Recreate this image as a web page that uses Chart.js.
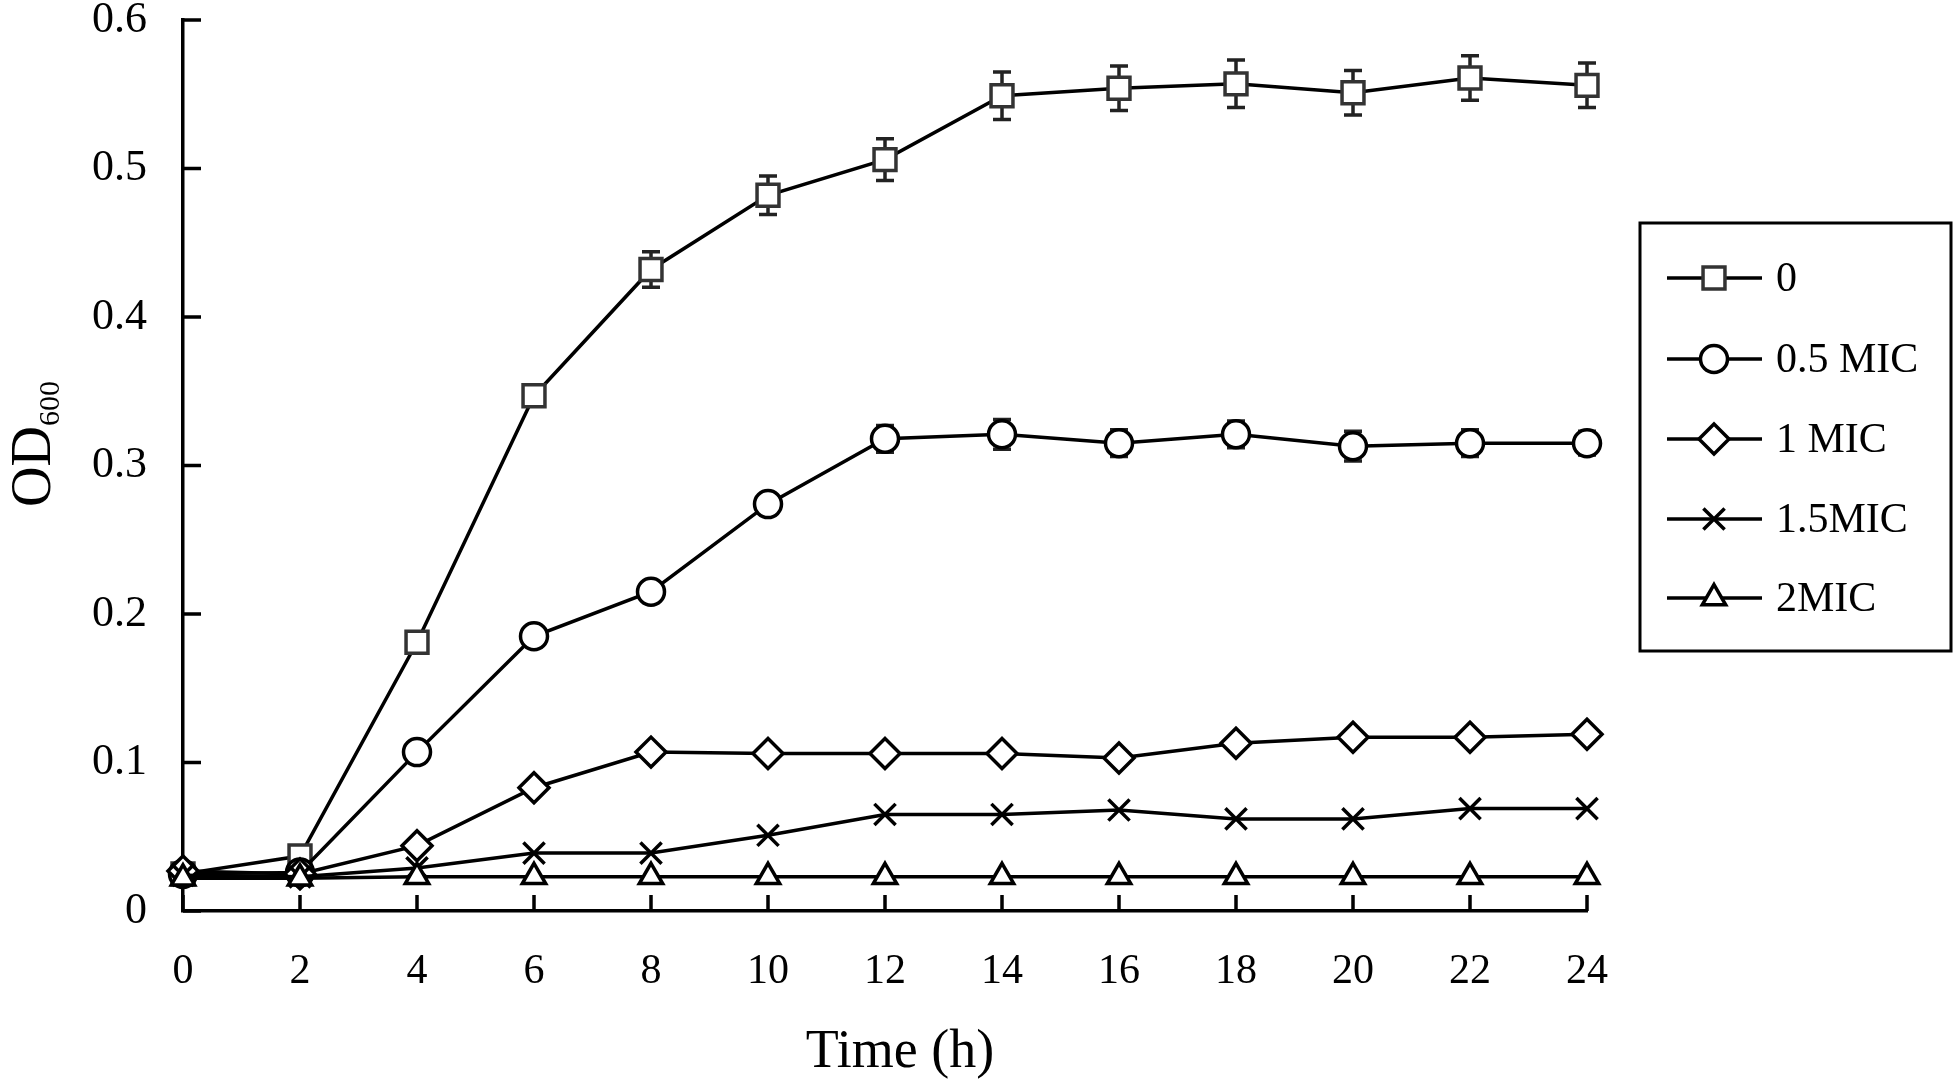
<!DOCTYPE html>
<html>
<head>
<meta charset="utf-8">
<script src="https://cdn.jsdelivr.net/npm/chart.js@4/dist/chart.umd.min.js"></script>
<style>
  html, body { margin: 0; padding: 0; background: #fff; }
  #wrap { width: 1955px; height: 1089px; position: relative; }
</style>
</head>
<body>
<div id="wrap"><canvas id="growthChart" width="1955" height="1089"></canvas></div>
<script>
// time points (h)
const timeH = [0, 2, 4, 6, 8, 10, 12, 14, 16, 18, 20, 22, 24];

// OD600 per treatment
const od0    = [0.025, 0.037, 0.181, 0.347, 0.432, 0.482, 0.506, 0.549, 0.554, 0.557, 0.551, 0.561, 0.556];
const odHalf = [0.025, 0.026, 0.107, 0.185, 0.215, 0.274, 0.318, 0.321, 0.315, 0.321, 0.313, 0.315, 0.315];
const od1    = [0.027, 0.025, 0.044, 0.083, 0.107, 0.106, 0.106, 0.106, 0.103, 0.113, 0.117, 0.117, 0.119];
const od15   = [0.024, 0.023, 0.029, 0.039, 0.039, 0.051, 0.065, 0.065, 0.068, 0.062, 0.062, 0.069, 0.069];
const od2    = [0.022, 0.022, 0.023, 0.023, 0.023, 0.023, 0.023, 0.023, 0.023, 0.023, 0.023, 0.023, 0.023];

// standard deviations
const err0    = [0.001, 0.003, 0.002, 0.006, 0.012, 0.013, 0.014, 0.016, 0.015, 0.016, 0.015, 0.015, 0.015];
const errHalf = [0.001, 0.002, 0.002, 0.003, 0.004, 0.006, 0.009, 0.010, 0.009, 0.009, 0.010, 0.009, 0.008];

const seriesLabels = ['0', '0.5 MIC', '1 MIC', '1.5MIC', '2MIC'];
const yTicks = [0, 0.1, 0.2, 0.3, 0.4, 0.5, 0.6];

const FONT = '"Liberation Serif", "Times New Roman", serif';

function pts(values) {
  return values.map((v, i) => ({ x: timeH[i], y: v }));
}

const markerStyles = [
  { pointStyle: 'rect', radius: 15.5, borderColor: '#333' },
  { pointStyle: 'circle', radius: 13.5, borderColor: '#000' },
  { pointStyle: 'rectRot', radius: 15, borderColor: '#000' },
  { pointStyle: 'crossRot', radius: 15, borderColor: '#000' },
  { pointStyle: 'triangle', radius: 13.5, borderColor: '#000' }
];

const seriesValues = [od0, odHalf, od1, od15, od2];
const seriesErrors = [err0, errHalf, null, null, null];

const datasets = seriesValues.map((vals, i) => ({
  label: seriesLabels[i],
  data: pts(vals),
  errors: seriesErrors[i],
  borderColor: '#000',
  borderWidth: 3.5,
  pointStyle: markerStyles[i].pointStyle,
  pointRadius: markerStyles[i].radius,
  pointBorderColor: markerStyles[i].borderColor,
  pointBackgroundColor: '#fff',
  pointBorderWidth: 3.5,
  tension: 0,
  clip: false,
  order: 4 - i
}));

// error bars behind markers
const errorBars = {
  id: 'errorBars',
  beforeDatasetsDraw(chart) {
    const { ctx, scales: { x, y } } = chart;
    ctx.save();
    ctx.strokeStyle = '#222';
    ctx.lineWidth = 3.5;
    chart.data.datasets.forEach(ds => {
      if (!ds.errors) return;
      ds.data.forEach((p, i) => {
        const e = ds.errors[i];
        if (!e) return;
        const px = x.getPixelForValue(p.x);
        const top = y.getPixelForValue(p.y + e);
        const bot = y.getPixelForValue(p.y - e);
        ctx.beginPath();
        ctx.moveTo(px, top); ctx.lineTo(px, bot);
        ctx.moveTo(px - 9, top); ctx.lineTo(px + 9, top);
        ctx.moveTo(px - 9, bot); ctx.lineTo(px + 9, bot);
        ctx.stroke();
      });
    });
    ctx.restore();
  }
};

// inward tick marks, axis titles and the boxed legend
const decorations = {
  id: 'decorations',
  afterDraw(chart) {
    const { ctx, chartArea: a, scales: { x, y } } = chart;
    ctx.save();
    ctx.strokeStyle = '#000';
    ctx.lineWidth = 3.5;
    ctx.beginPath();
    timeH.forEach(t => {
      const px = x.getPixelForValue(t);
      ctx.moveTo(px, a.bottom); ctx.lineTo(px, a.bottom - 16);
    });
    yTicks.forEach(v => {
      const py = y.getPixelForValue(v);
      ctx.moveTo(a.left, py); ctx.lineTo(a.left + 18, py);
    });
    ctx.stroke();

    // y title OD600
    ctx.fillStyle = '#000';
    ctx.save();
    ctx.translate(50, 444);
    ctx.rotate(-Math.PI / 2);
    ctx.font = '56px ' + FONT;
    ctx.textBaseline = 'alphabetic';
    const odW = ctx.measureText('OD').width;
    ctx.font = '30px ' + FONT;
    const subW = ctx.measureText('600').width;
    const start = -(odW + subW) / 2;
    ctx.font = '56px ' + FONT;
    ctx.textAlign = 'left';
    ctx.fillText('OD', start, 0);
    ctx.font = '30px ' + FONT;
    ctx.fillText('600', start + odW, 9);
    ctx.restore();

    // x title
    ctx.font = '54px ' + FONT;
    ctx.textAlign = 'center';
    ctx.textBaseline = 'middle';
    ctx.fillText('Time (h)', 900, 1053);

    // legend box
    ctx.lineWidth = 3;
    ctx.strokeStyle = '#000';
    ctx.strokeRect(1640, 223, 311, 428);
    const rows = [278, 359, 439, 519, 598];
    ctx.font = '42px ' + FONT;
    ctx.textAlign = 'left';
    ctx.textBaseline = 'middle';
    seriesLabels.forEach((lab, i) => {
      const ly = rows[i];
      ctx.strokeStyle = '#000';
      ctx.lineWidth = 3.5;
      ctx.beginPath();
      ctx.moveTo(1667, ly); ctx.lineTo(1762, ly);
      ctx.stroke();
      ctx.fillStyle = '#fff';
      ctx.strokeStyle = markerStyles[i].borderColor;
      ctx.lineWidth = 3.5;
      Chart.helpers.drawPoint(ctx, {
        pointStyle: markerStyles[i].pointStyle,
        radius: markerStyles[i].radius,
        rotation: 0,
        borderWidth: 3.5
      }, 1714, ly);
      ctx.fillStyle = '#000';
      ctx.fillText(lab, 1776, ly + 2);
    });
    ctx.restore();
  }
};

new Chart(document.getElementById('growthChart').getContext('2d'), {
  type: 'line',
  data: { datasets },
  options: {
    responsive: false,
    animation: false,
    layout: { padding: { top: 20, right: 368, left: 0, bottom: 0 } },
    plugins: { legend: { display: false }, tooltip: { enabled: false } },
    scales: {
      x: {
        type: 'linear',
        min: 0, max: 24,
        grid: { display: false, drawTicks: false },
        border: { display: true, color: '#000', width: 3.5 },
        ticks: {
          stepSize: 2,
          padding: 36,
          color: '#000',
          font: { family: FONT, size: 42 }
        },
        afterFit(scale) {
          scale.height = 178;
          scale.paddingLeft = 0;
          scale.paddingRight = 0;
        }
      },
      y: {
        min: 0, max: 0.6,
        grid: { display: false, drawTicks: false },
        border: { display: true, color: '#000', width: 3.5 },
        ticks: {
          stepSize: 0.1,
          padding: 36,
          color: '#000',
          font: { family: FONT, size: 44 },
          callback: v => (Math.round(v * 10) / 10).toString()
        },
        afterFit(scale) {
          scale.width = 183;
          scale.paddingTop = 0;
          scale.paddingBottom = 0;
        }
      }
    }
  },
  plugins: [errorBars, decorations]
});
</script>
</body>
</html>
